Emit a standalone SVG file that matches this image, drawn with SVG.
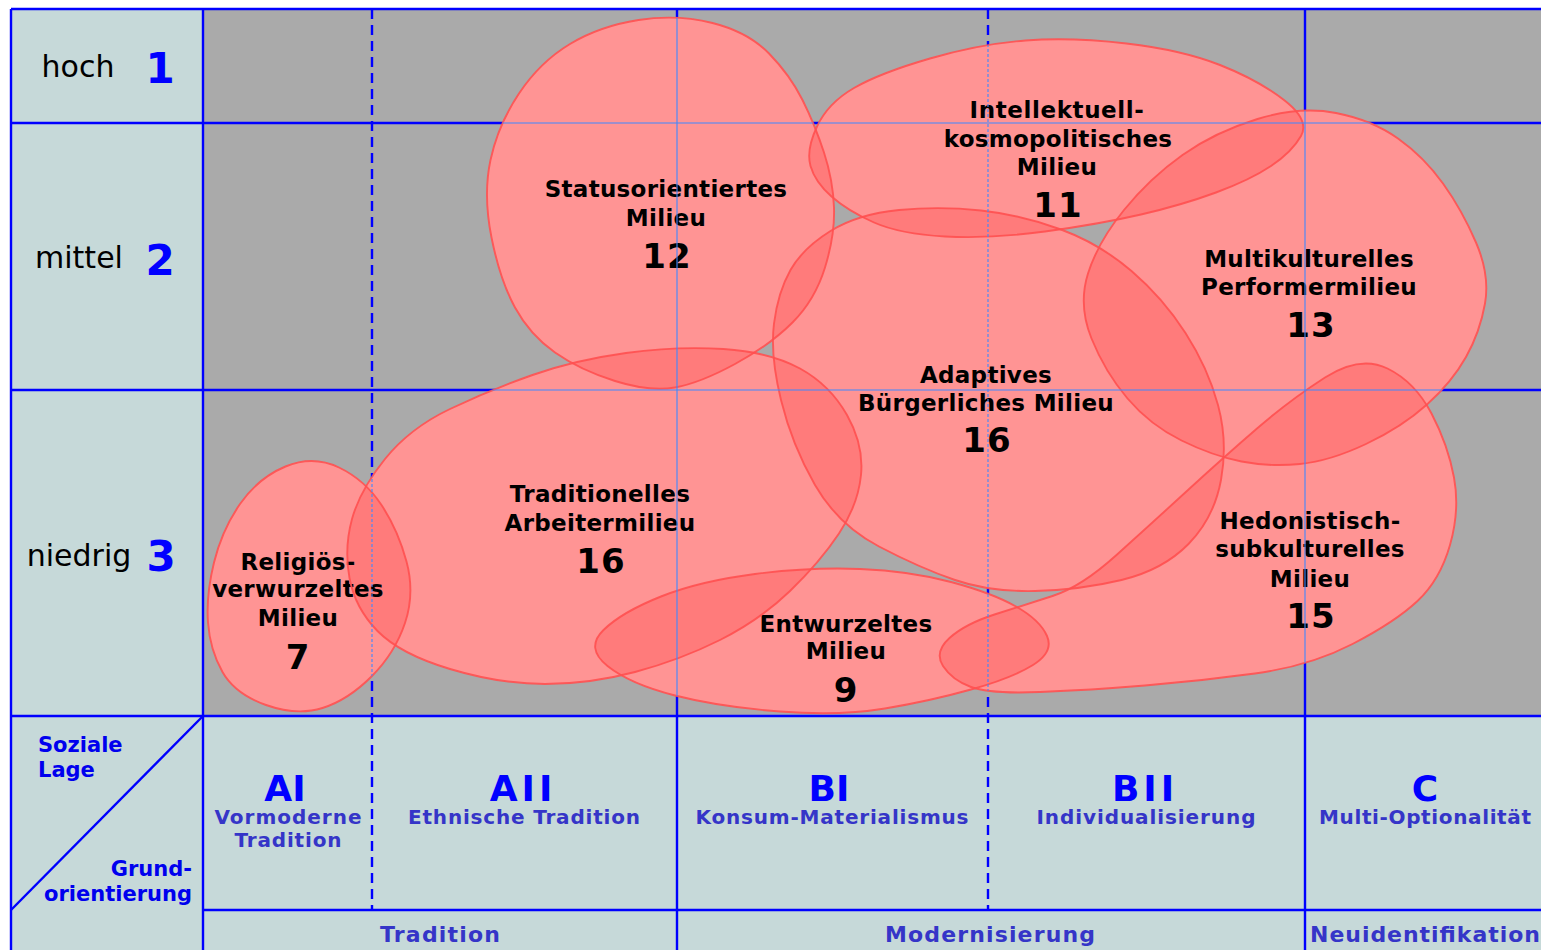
<svg xmlns="http://www.w3.org/2000/svg" xmlns:xlink="http://www.w3.org/1999/xlink" width="1541" height="950" viewBox="0 0 1541 950">
<style>
  .grid{stroke:#0000ff;stroke-width:2.4;fill:none}
  .dash{stroke-dasharray:10 6}
  .fine{stroke:#3f88ff;stroke-width:1.1;fill:none}
  .fine-dash{stroke-dasharray:3 2}
  .under{fill:#ffffff;stroke:none}
  .blob{fill:#ff7373;fill-opacity:0.766;stroke:none}
  .edge{fill:none;stroke:#ff5050;stroke-width:1.9;stroke-opacity:0.9}
  text{font-family:"DejaVu Sans",Verdana,sans-serif}
  .lbl{font-size:23px;font-weight:bold;fill:#000;text-anchor:middle;letter-spacing:0.3px}
  .num{font-size:34px;font-weight:bold;fill:#000;text-anchor:middle;letter-spacing:1px}
  .lvl{font-size:30px;fill:#000;text-anchor:middle}
  .lvn{font-size:42px;font-weight:bold;fill:#0000ff;text-anchor:middle}
  .axis{font-size:21px;font-weight:bold;fill:#0000ee}
  .code{font-size:36px;font-weight:bold;fill:#0000ff;text-anchor:middle}
  .sub{font-size:20px;font-weight:bold;fill:#3535c8;text-anchor:middle}
  .foot{font-size:22px;font-weight:bold;fill:#3535c8;text-anchor:middle}
</style>
<defs>
  <path id="shape-s12" d="M490.5,160 Q498,125 519,93.5 Q540,62 570,44 Q600,26 638.5,20 Q677,14 712.5,23 Q748,32 769,53.5 Q790,75 802.5,100 Q815,125 824,152.5 Q833,180 834,207.5 Q835,235 825,267.5 Q815,300 792.5,322.5 Q770,345 735,364 Q700,383 675,387.5 Q650,392 615,381 Q580,370 555,352.5 Q530,335 515,307.5 Q500,280 491.5,237.5 Q483,195 490.5,160Z"/>
  <path id="shape-i11" d="M817,126.5 Q828,103 854,88 Q880,73 930,58.5 Q980,44 1025.5,40.5 Q1071,37 1126.5,43.5 Q1182,50 1220,65 Q1258,80 1284,100 Q1310,120 1301,136 Q1292,152 1271,166 Q1250,180 1216,192.5 Q1182,205 1141,214.5 Q1100,224 1045,231.5 Q990,239 945,236.5 Q900,234 874,222.5 Q848,211 831.5,196.5 Q815,182 810.5,166 Q806,150 817,126.5Z"/>
  <path id="shape-m13" d="M1088,273.5 Q1098,242 1124,210 Q1150,178 1182.5,155 Q1215,132 1257.5,119 Q1300,106 1336,113 Q1372,120 1398,138.5 Q1424,157 1443,183.5 Q1462,210 1476,242.5 Q1490,275 1485,303.5 Q1480,332 1466,357 Q1452,382 1427,404.5 Q1402,427 1366,444 Q1330,461 1300,464 Q1270,467 1241.5,461.5 Q1213,456 1181.5,440.5 Q1150,425 1127.5,398.5 Q1105,372 1091.5,338.5 Q1078,305 1088,273.5Z"/>
  <path id="shape-a16" d="M774,323.5 Q778,292 790.5,270 Q803,248 830.5,231 Q858,214 899,210 Q940,206 981,210.5 Q1022,215 1061,229.5 Q1100,244 1131.5,271 Q1163,298 1185.5,333 Q1208,368 1218,405 Q1228,442 1221,480 Q1214,518 1188.5,544 Q1163,570 1121.5,580 Q1080,590 1035,591 Q990,592 955,580 Q920,568 879,546.5 Q838,525 815,485 Q792,445 781,400 Q770,355 774,323.5Z"/>
  <path id="shape-t16" d="M352,519 Q360,490 385,459 Q410,428 450,409 Q490,390 532.5,375 Q575,360 626,353 Q677,346 723.5,349 Q770,352 800,368.5 Q830,385 847,415 Q864,445 861,475 Q858,505 839,533.5 Q820,562 790,591 Q760,620 720,640 Q680,660 635,672 Q590,684 545,684 Q500,684 450,669 Q400,654 377.5,631 Q355,608 349.5,578 Q344,548 352,519Z"/>
  <path id="shape-h15" d="M949.5,638 Q965,624 994.5,614.5 Q1024,605 1052.5,596 Q1081,587 1116.5,555 Q1152,523 1188,490 Q1224,457 1257,428.5 Q1290,400 1325,377.5 Q1360,355 1387.5,368.5 Q1415,382 1431.5,413.5 Q1448,445 1454,477.5 Q1460,510 1450,545 Q1440,580 1417.5,601 Q1395,622 1352.5,644 Q1310,666 1255,673.5 Q1200,681 1145,685.5 Q1090,690 1040,692 Q990,694 971,687 Q952,680 943,666 Q934,652 949.5,638Z"/>
  <path id="shape-e9" d="M603.5,630 Q622,612 661,596.5 Q700,581 755,574 Q810,567 860,569 Q910,571 951,582 Q992,593 1016,606.5 Q1040,620 1047,636 Q1054,652 1033,665 Q1012,678 971,689.5 Q930,701 885,708.5 Q840,716 780,711.5 Q720,707 675,695.5 Q630,684 607.5,666 Q585,648 603.5,630Z"/>
  <path id="shape-r7" d="M339,467.5 Q365,480 381.5,505 Q398,530 406.5,561.5 Q415,593 405,623 Q395,653 371.5,676.5 Q348,700 322.5,708 Q297,716 266,705 Q235,694 222.5,672 Q210,650 208,622.5 Q206,595 214,562.5 Q222,530 240,504 Q258,478 285.5,466.5 Q313,455 339,467.5Z"/>
  <clipPath id="blob-area">
    <use xlink:href="#shape-s12"/><use xlink:href="#shape-i11"/><use xlink:href="#shape-m13"/><use xlink:href="#shape-a16"/>
    <use xlink:href="#shape-t16"/><use xlink:href="#shape-h15"/><use xlink:href="#shape-e9"/><use xlink:href="#shape-r7"/>
  </clipPath>
</defs>

<!-- backgrounds -->
<rect x="0" y="0" width="1541" height="950" fill="#ffffff"/>
<rect x="11" y="9" width="1530" height="941" fill="#c6d9d9"/>
<rect x="203" y="9" width="1338" height="707" fill="#aaaaaa"/>

<!-- grid -->
<g id="grid" class="grid">
  <line x1="11" y1="9" x2="1541" y2="9"/>
  <line x1="11" y1="9" x2="11" y2="950"/>
  <line x1="203" y1="9" x2="203" y2="950"/>
  <line x1="11" y1="123" x2="1541" y2="123"/>
  <line x1="11" y1="390" x2="1541" y2="390"/>
  <line x1="11" y1="716" x2="1541" y2="716"/>
  <line x1="203" y1="910" x2="1541" y2="910"/>
  <line x1="203" y1="716" x2="11" y2="910"/>
  <line x1="677" y1="9" x2="677" y2="950"/>
  <line x1="1305" y1="9" x2="1305" y2="950"/>
  <line class="dash" x1="372" y1="9" x2="372" y2="910"/>
  <line class="dash" x1="988" y1="9" x2="988" y2="910"/>
</g>

<!-- opaque base under the milieu areas -->
<g id="base" class="under">
  <use xlink:href="#shape-s12"/><use xlink:href="#shape-i11"/><use xlink:href="#shape-m13"/><use xlink:href="#shape-a16"/>
  <use xlink:href="#shape-t16"/><use xlink:href="#shape-h15"/><use xlink:href="#shape-e9"/><use xlink:href="#shape-r7"/>
</g>

<!-- milieus -->
<g id="milieu-12">
  <use class="blob" xlink:href="#shape-s12"/>
  <text class="lbl" x="666" y="197">Statusorientiertes</text>
  <text class="lbl" x="666" y="226">Milieu</text>
  <text class="num" x="667" y="268">12</text>
</g>
<g id="milieu-11">
  <use class="blob" xlink:href="#shape-i11"/>
  <text class="lbl" x="1057" y="118" style="letter-spacing:0.6px">Intellektuell-</text>
  <text class="lbl" x="1058" y="147">kosmopolitisches</text>
  <text class="lbl" x="1057" y="175">Milieu</text>
  <text class="num" x="1058" y="217">11</text>
</g>
<g id="milieu-13">
  <use class="blob" xlink:href="#shape-m13"/>
  <text class="lbl" x="1309" y="267">Multikulturelles</text>
  <text class="lbl" x="1309" y="295">Performermilieu</text>
  <text class="num" x="1311" y="337">13</text>
</g>
<g id="milieu-16-adaptiv">
  <use class="blob" xlink:href="#shape-a16"/>
  <text class="lbl" x="986" y="383">Adaptives</text>
  <text class="lbl" x="986" y="411">Bürgerliches Milieu</text>
  <text class="num" x="987" y="452">16</text>
</g>
<g id="milieu-16-arbeiter">
  <use class="blob" xlink:href="#shape-t16"/>
  <text class="lbl" x="600" y="502">Traditionelles</text>
  <text class="lbl" x="600" y="531">Arbeitermilieu</text>
  <text class="num" x="601" y="573">16</text>
</g>
<g id="milieu-15">
  <use class="blob" xlink:href="#shape-h15"/>
  <text class="lbl" x="1310" y="529">Hedonistisch-</text>
  <text class="lbl" x="1310" y="557">subkulturelles</text>
  <text class="lbl" x="1310" y="587">Milieu</text>
  <text class="num" x="1311" y="628">15</text>
</g>
<g id="milieu-9">
  <use class="blob" xlink:href="#shape-e9"/>
  <text class="lbl" x="846" y="632">Entwurzeltes</text>
  <text class="lbl" x="846" y="659">Milieu</text>
  <text class="num" x="846" y="702">9</text>
</g>
<g id="milieu-7">
  <use class="blob" xlink:href="#shape-r7"/>
  <text class="lbl" x="298" y="570">Religiös-</text>
  <text class="lbl" x="298" y="597">verwurzeltes</text>
  <text class="lbl" x="298" y="626">Milieu</text>
  <text class="num" x="298" y="669">7</text>
</g>

<!-- outlines of the milieu areas -->
<g id="outlines" class="edge">
  <use xlink:href="#shape-s12"/><use xlink:href="#shape-i11"/><use xlink:href="#shape-m13"/><use xlink:href="#shape-a16"/>
  <use xlink:href="#shape-t16"/><use xlink:href="#shape-h15"/><use xlink:href="#shape-e9"/><use xlink:href="#shape-r7"/>
</g>

<!-- grid lines shown through the milieu areas -->
<g id="grid-through" class="fine" clip-path="url(#blob-area)">
  <line x1="203" y1="123" x2="1541" y2="123"/>
  <line x1="203" y1="390" x2="1541" y2="390"/>
  <line x1="677" y1="9" x2="677" y2="716"/>
  <line x1="1305" y1="9" x2="1305" y2="716"/>
  <line class="fine-dash" x1="372" y1="9" x2="372" y2="716"/>
  <line class="fine-dash" x1="988" y1="9" x2="988" y2="716"/>
</g>

<!-- social position levels -->
<g id="levels">
  <text class="lvl" x="78" y="77">hoch</text>
  <text class="lvn" x="160" y="83">1</text>
  <text class="lvl" x="79" y="268">mittel</text>
  <text class="lvn" x="160" y="275">2</text>
  <text class="lvl" x="79" y="566">niedrig</text>
  <text class="lvn" x="161" y="571">3</text>
</g>

<!-- axis corner -->
<g id="axis-corner">
  <text class="axis" x="38" y="752">Soziale</text>
  <text class="axis" x="38" y="777">Lage</text>
  <text class="axis" x="192" y="876" text-anchor="end">Grund-</text>
  <text class="axis" x="192" y="901" text-anchor="end">orientierung</text>
</g>

<!-- basic orientation columns -->
<g id="orientations">
  <text class="code" x="285" y="801">AI</text>
  <text class="sub" x="288" y="824" textLength="147">Vormoderne</text>
  <text class="sub" x="288" y="847" textLength="107">Tradition</text>
  <text class="code" x="523" y="801" style="letter-spacing:4px">AII</text>
  <text class="sub" x="524" y="824" textLength="232">Ethnische Tradition</text>
  <text class="code" x="829" y="801">BI</text>
  <text class="sub" x="832" y="824" textLength="273">Konsum-Materialismus</text>
  <text class="code" x="1145" y="801" style="letter-spacing:4px">BII</text>
  <text class="sub" x="1146" y="824" textLength="219">Individualisierung</text>
  <text class="code" x="1425" y="801">C</text>
  <text class="sub" x="1425" y="824" textLength="212">Multi-Optionalität</text>
</g>

<g id="orientation-groups">
  <text class="foot" x="440" y="942" textLength="120">Tradition</text>
  <text class="foot" x="990" y="942" textLength="210">Modernisierung</text>
  <text class="foot" x="1425" y="942" textLength="230">Neuidentifikation</text>
</g>
</svg>
